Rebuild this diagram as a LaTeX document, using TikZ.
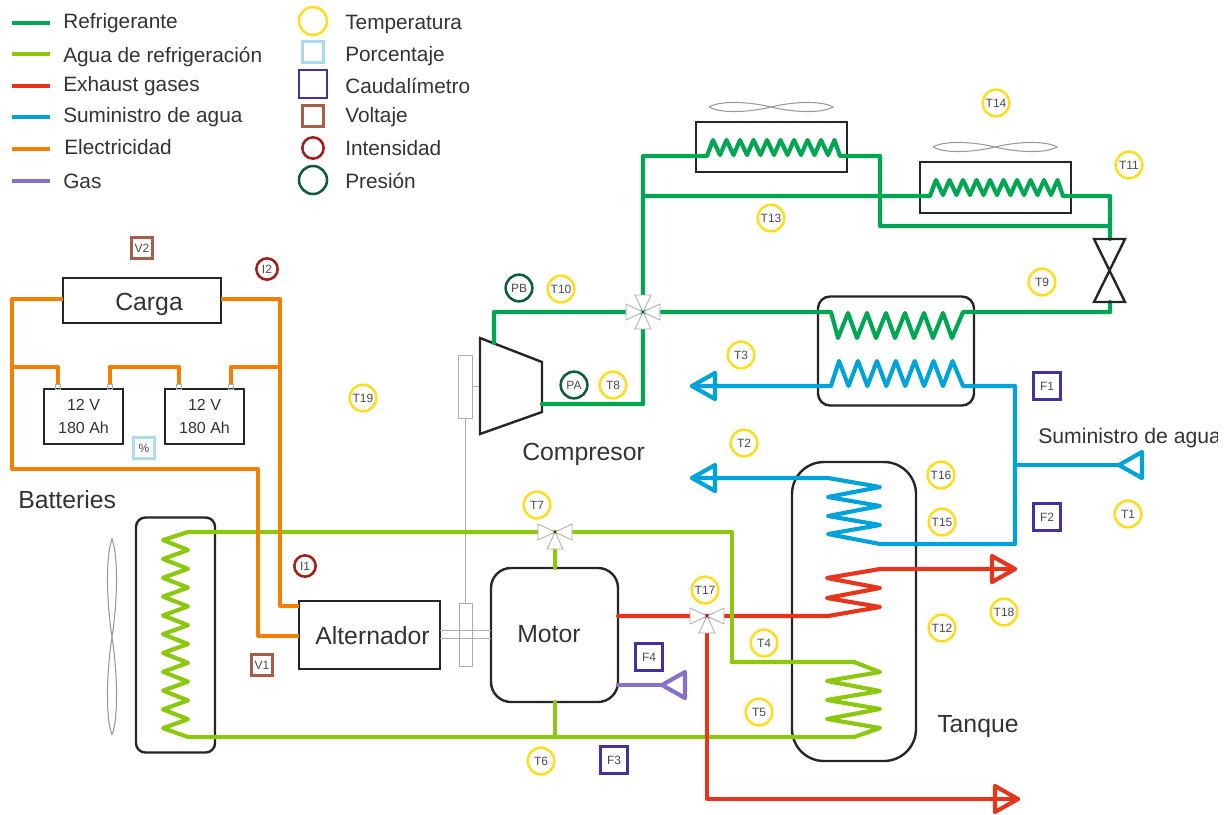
\documentclass[tikz,border=0pt]{standalone}
\usepackage{fontspec}
\setmainfont{Liberation Sans}
\definecolor{refrigc}{HTML}{00A651}
\definecolor{coolc}{HTML}{8CC810}
\definecolor{exhc}{HTML}{E5351C}
\definecolor{waterc}{HTML}{00A3D9}
\definecolor{elecc}{HTML}{F57F00}
\definecolor{gasc}{HTML}{8570CC}
\definecolor{tempc}{HTML}{FFDD1E}
\definecolor{pctc}{HTML}{A9DAF2}
\definecolor{flowc}{HTML}{46309F}
\definecolor{voltc}{HTML}{A65E48}
\definecolor{ampc}{HTML}{A0201C}
\definecolor{presc}{HTML}{0E5A42}
\definecolor{txtc}{HTML}{333333}
\tikzset{
  pipe/.style={line width=3.1pt, line join=round, line cap=round},
  refrig/.style={pipe, refrigc},
  coolant/.style={pipe, coolc},
  exhaust/.style={pipe, exhc},
  watersup/.style={pipe, waterc},
  elec/.style={pipe, elecc},
  gasline/.style={pipe, gasc},
  box/.style={draw=black!85, line width=1.8pt, inner sep=0pt, outer sep=0pt, text=txtc},
  thin gray/.style={draw=gray!65, line width=0.6pt},
  lbl/.style={anchor=base west, inner sep=0pt, text=txtc, font=\fontsize{18.6}{22}\selectfont},
  lgd/.style={anchor=base west, inner sep=0pt, text=txtc, font=\fontsize{15.6}{18}\selectfont},
  inst/.style={inner sep=0pt, outer sep=0pt, line width=1.9pt, fill=white, text=black!70, font=\fontsize{9}{10}\selectfont},
  tempc node/.style={inst, circle, draw=tempc, minimum size=20pt},
  pct node/.style={inst, rectangle, draw=pctc, minimum size=16pt},
  flow node/.style={inst, rectangle, draw=flowc, minimum size=20pt},
  volt node/.style={inst, rectangle, draw=voltc, minimum size=16pt},
  amp node/.style={inst, circle, draw=ampc, minimum size=16pt},
  pres node/.style={inst, circle, draw=presc, minimum size=20pt},
}
% valve wing, open arrow end and fan blade
\newcommand{\wing}[2]{\draw[thin gray, fill=white, shift={(#1)}, rotate=#2] (0,0) -- (17,-8) -- (17,8) -- cycle;}
\newcommand{\opentip}[3]{\draw[#2, shift={(#1)}, rotate=#3] (0,0) -- (-23,-13) -- (-23,13) -- cycle;}
\newcommand{\fanblade}[2]{\draw[draw=gray!80, line width=0.8pt, shift={(#1)}, #2] (-62,0) .. controls (-50,-7) and (-20,-5) .. (0,0) .. controls (20,5) and (50,7) .. (62,0) .. controls (50,-7) and (20,-5) .. (0,0) .. controls (-20,5) and (-50,7) .. (-62,0);}
\begin{document}
\begin{tikzpicture}[x=0.75pt, y=-0.75pt]
\useasboundingbox (0,0) rectangle (1230,814);
% legend
\foreach \i/\py/\ly/\lx/\sty/\txt in {1/23/28/63/refrig/Refrigerante, 2/54/62/63/coolant/Agua de refrigeración, 3/86/91/63/exhaust/Exhaust gases, 4/117/122/63/watersup/Suministro de agua, 5/149/154/64/elec/Electricidad, 6/181/188/63/gasline/Gas}{
  \coordinate (lgA\i) at (12,\py);
  \coordinate (lgB\i) at (50,\py);
  \draw[\sty, line cap=butt] (lgA\i) -- (lgB\i);
  \node[lgd] (lgT\i) at (\lx,\ly) {\txt};
}
\node[tempc node, minimum size=21pt] (lgTemp) at (313,21) {};
\node[pct node] (lgPct) at (313,52) {};
\node[flow node, minimum size=21pt] (lgFlow) at (313,84) {};
\node[volt node] (lgVolt) at (313,116) {};
\node[amp node] (lgAmp) at (313,148) {};
\node[pres node, minimum size=21pt] (lgPres) at (313,180) {};
\foreach \i/\ly/\txt in {1/29/Temperatura, 2/61/Porcentaje, 3/93/Caudalímetro, 4/122/Voltaje, 5/155/Intensidad, 6/188/Presión}{
  \node[lgd] (lgR\i) at (345,\ly) {\txt};
}
% boxes
\node[box, minimum width=118.5pt, minimum height=33.75pt] (carga) at (142,300.5) {};
\node[box, align=center, font=\fontsize{12}{17}\selectfont, minimum width=59.25pt, minimum height=41.25pt] (bat1) at (83.5,416.5) {12 V\\180 Ah};
\node[box, align=center, font=\fontsize{12}{17}\selectfont, minimum width=59.25pt, minimum height=41.25pt] (bat2) at (204.5,416.5) {12 V\\180 Ah};
\node[box, minimum width=105.75pt, minimum height=51pt] (altern) at (369.5,635) {};
\node[box, rounded corners=15pt, minimum width=95.25pt, minimum height=100.5pt] (motor) at (554.5,635) {};
\node[box, rounded corners=7pt, minimum width=59.25pt, minimum height=176.25pt] (radiat) at (175.5,635) {};
\node[box, rounded corners=24pt, minimum width=93pt, minimum height=224.25pt] (tanque) at (854,611.5) {};
\node[box, rounded corners=9pt, minimum width=117pt, minimum height=81.75pt] (interc) at (896,351) {};
\node[box, minimum width=113.25pt, minimum height=37.5pt] (cond1) at (771.5,147) {};
\node[box, minimum width=113.25pt, minimum height=38.25pt] (cond2) at (995.5,187.5) {};
\node[lbl] (lCarga) at (115,310) {Carga};
\node[lbl] (lAltern) at (315,644) {Alternador};
\node[lbl] (lMotor) at (517,642) {Motor};
\node[lbl] (lCompr) at (522,460) {Compresor};
\node[lbl] (lBatt) at (18,508) {Batteries};
\node[lbl] (lTanque) at (937,732) {Tanque};
\begin{scope}
\clip (0,0) rectangle (1217,814);
\node[lgd, font=\fontsize{15.9}{18}\selectfont] (lSupply) at (1038,443) {Suministro de agua};
\end{scope}
% compressor, shaft and belt
\draw[thin gray] (458,355) rectangle (472,418);
\draw[thin gray] (459,603) rectangle (472,666);
\draw[thin gray] (465,418) -- (465,603);
\draw[thin gray] (472,386) -- (480,386);
\draw[thin gray] (440,630) -- (491,630) (440,638) -- (491,638);
\draw[box] (480,338) -- (542,362) -- (542,412) -- (480,434) -- cycle;
\fanblade{771,107}{}
\fanblade{995,147}{}
\fanblade{112,637}{rotate=90, xscale=1.58}
% refrigerant
\coordinate (v4) at (643,312);
\coordinate (compIn) at (494,343);
\coordinate (compOut) at (542,404);
\coordinate (xvTop) at (1110,239);
\coordinate (xvBot) at (1110,302);
\draw[refrig] (compIn) -- (494,312) -- (v4) -- (831,312) -- (838,338)
  \foreach \k in {0,...,5}{ -- ({848+19*\k},313) -- ({857+19*\k},338) } -- (963,312) -- (1110,312) -- (xvBot);
\draw[refrig] (compOut) -- (643,404) -- (v4) -- (643,156) -- (707,156) -- (713,140)
  \foreach \k in {0,...,8}{ -- ({720+13.5*\k},155) -- ({726.5+13.5*\k},140) } -- (840,156) -- (880,156) -- (880,226) -- (1110,226);
\draw[refrig] (643,196) -- (930,196) -- (936,180)
  \foreach \k in {0,...,8}{ -- ({943+13.5*\k},195) -- ({949.5+13.5*\k},180) } -- (1063,196) -- (1110,196) -- (xvTop);
\draw[box] (1094,239) -- (1125,239) -- (1094,302) -- (1125,302) -- cycle;
% water supply
\coordinate (wSup) at (1119,465);
\coordinate (wJoin) at (1015,465);
\coordinate (wOut1) at (692,386);
\coordinate (wOut2) at (692,478);
\draw[watersup] (wOut1) -- (831,386) -- (839,361)
  \foreach \k in {0,...,5}{ -- ({848.5+18.9*\k},386) -- ({858+18.9*\k},361) } -- (963,386) -- (1015,386) -- (1015,544) -- (880,544) -- (828,534) -- (880,525) -- (828,516) -- (880,506) -- (828,497) -- (880,487) -- (828,478) -- (wOut2);
\draw[watersup] (wJoin) -- (wSup);
\opentip{wOut1}{watersup}{180}
\opentip{wOut2}{watersup}{180}
\opentip{wSup}{watersup}{180}
% coolant, lower part
\coordinate (v7) at (555,532);
\coordinate (jBot) at (555,737);
\coordinate (mTop) at (555,568);
\coordinate (mBot) at (555,702);
\draw[coolant] (mBot) -- (jBot);
\draw[coolant] (v7) -- (188,532) -- (163,540)
  \foreach \k in {0,...,9}{ -- (188,{550+18.8*\k}) -- (163,{559+18.8*\k}) } -- (188,737) -- (854,737) -- (880,728) -- (827,719) -- (880,709) -- (827,700) -- (880,691) -- (827,681) -- (880,672) -- (854,662) -- (732,662);
% exhaust
\coordinate (v17) at (707,616);
\coordinate (mExh) at (618,616);
\coordinate (exh1) at (1015,569);
\coordinate (exh2) at (1018,799);
\draw[exhaust] (mExh) -- (828,616) -- (880,607) -- (827,598) -- (880,588) -- (827,578) -- (880,569) -- (exh1);
\draw[exhaust] (v17) -- (707,799) -- (exh2);
\opentip{exh1}{exhaust}{0}
\opentip{exh2}{exhaust}{0}
% coolant, upper part
\draw[coolant] (732,662) -- (732,532) -- (v7);
\draw[coolant] (v7) -- (mTop);
% gas
\coordinate (gOut) at (662,685);
\coordinate (mGas) at (618,685);
\draw[gasline] (mGas) -- (gOut);
\opentip{gOut}{gasline}{180}
% electricity
\foreach \i/\px in {1/58, 2/110, 3/179, 4/231}{
  \node[draw=gray!60, line width=0.5pt, inner sep=0pt, outer sep=0pt, minimum width=3.5pt, minimum height=3.5pt] (term\i) at (\px,386.5) {};
}
\coordinate (cargaL) at (63,299);
\coordinate (cargaR) at (221,299);
\coordinate (altUp) at (299,606);
\coordinate (altLo) at (299,636);
\draw[elec, line cap=butt] (cargaL) -- (12,299) -- (12,469) -- (258,469) -- (258,636) -- (altLo);
\draw[elec, line cap=butt] (cargaR) -- (280,299) -- (280,606) -- (altUp);
\draw[elec, line cap=butt] (12,367) -- (58,367) -- (term1.north);
\draw[elec, line cap=butt] (term2.north) -- (110,367) -- (179,367) -- (term3.north);
\draw[elec, line cap=butt] (term4.north) -- (231,367) -- (280,367);
% valves
\foreach \ang in {180,0,270}{\wing{v7}{\ang}}
\foreach \ang in {180,0,270}{\wing{v17}{\ang}}
\foreach \ang in {180,0,270,90}{\wing{v4}{\ang}}
\fill (v7) circle (0.8pt) (v17) circle (0.8pt) (v4) circle (0.8pt);
% sensors
\foreach \nm/\px/\py/\txt in {t1/1128/514/T1, t2/744/443/T2, t3/741/355/T3, t4/764/643/T4, t5/759/712/T5, t6/541/761/T6, t7/537/505/T7, t8/613/385/T8, t9/1042/282/T9, t10/561/289/T10, t11/1129/165/T11, t12/942/628/T12, t13/771/218/T13, t14/996/103/T14, t15/942/522/T15, t16/941/475/T16, t17/705/590/T17, t18/1004/612/T18, t19/363/398/T19}{
  \node[tempc node] (\nm) at (\px,\py) {\txt};
}
\foreach \nm/\px/\py/\txt in {f1/1047/386/F1, f2/1047/517/F2, f3/614/760/F3, f4/649/657/F4}{
  \node[flow node] (\nm) at (\px,\py) {\txt};
}
\node[volt node] (v1) at (262,665) {V1};
\node[volt node] (v2) at (142,248) {V2};
\node[amp node] (i1) at (305,566) {I1};
\node[amp node] (i2) at (267,269) {I2};
\node[pct node] (pct) at (144,448) {\%};
\node[pres node] (pa) at (574,385) {PA};
\node[pres node] (pb) at (519,288) {PB};
\end{tikzpicture}
\end{document}
